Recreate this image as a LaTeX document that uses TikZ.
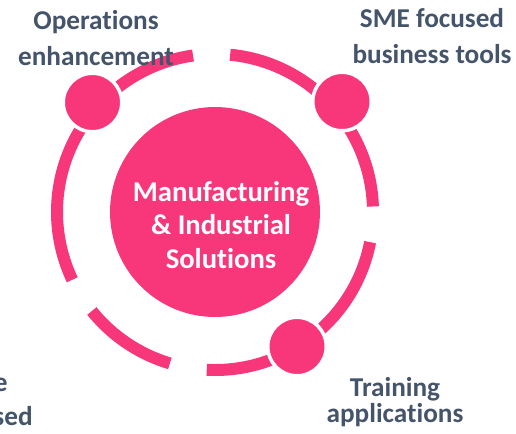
\documentclass[tikz,border=0pt]{standalone}
\usepackage{fontspec}
\setmainfont{Carlito}[Ligatures=NoCommon]
\usetikzlibrary{positioning}
\definecolor{ringpink}{RGB}{247,55,121}
\definecolor{labelgrey}{RGB}{68,84,106}

\begin{document}
\begin{tikzpicture}[
    x=0.02cm, y=0.02cm,
    every node/.style={font=\bfseries},
    hub/.style={circle, fill=ringpink, minimum size=4.2cm, inner sep=0pt},
    hubtext/.style={text=white, align=center, inner sep=0pt, font=\bfseries\fontsize{16.3}{19.3}\selectfont},
    dot/.style={circle, fill=ringpink, draw=white, line width=0.07cm, minimum size=1.17cm, inner sep=0pt},
    ring/.style={draw=ringpink, line width=0.24cm},
    topic/.style={text=labelgrey, align=center, inner sep=0pt, font=\bfseries\fontsize{15.5}{20.5}\selectfont}
]
\useasboundingbox (0,0) rectangle (516,433);
\node[hub] (hub) at (215,221) {};
\node[hubtext] (title) at (221,208) {Manufacturing\\\& Industrial\\Solutions};
% dashed ring round the hub
\foreach \from/\to in {2/84.5, 98/205.4, 218.8/253.4, 267/349}
    \draw[ring] ([shift={(\from:158)}]hub.center) arc[start angle=\from, end angle=\to, radius=158];
\node[dot] (opsdot) at (92.5,330.5) {};
\node[dot] (smedot) at (342,331.5) {};
\node[dot] (traindot) at (297,86.5) {};
\node[topic] (ops) at (96,394.5) {Operations\\enhancement};
\node[topic] (sme) at (432,396.5) {SME focused\\business tools};
\node[topic, font=\bfseries\fontsize{15.5}{14.8}\selectfont] (train) at (395,30.5) {Training\\applications};
\node[topic, anchor=base east] (cutone) at (8,42) {e};
\node[topic, anchor=base east] (cuttwo) at (33,8) {sed};
\end{tikzpicture}
\end{document}
